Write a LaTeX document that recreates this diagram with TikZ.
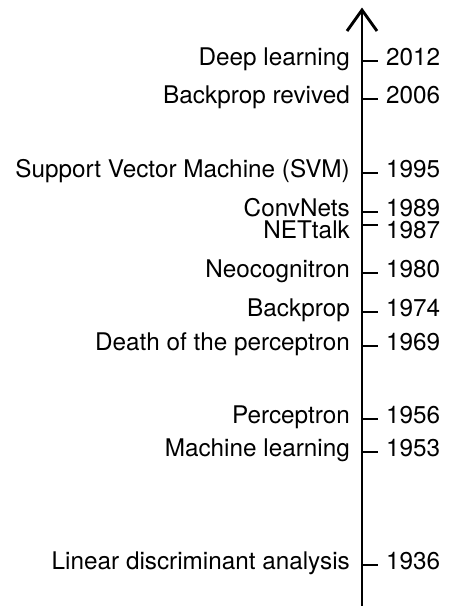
\documentclass[tikz,border=0pt]{standalone}
\usepackage{fontspec}
\setmainfont{TeX Gyre Heros}
\begin{document}
\begin{tikzpicture}[x=1pt,y=-1pt,
  axisline/.style={line width=2.9pt,line join=miter,line cap=butt},
  tickline/.style={line width=2.9pt,line cap=butt},
  yearlbl/.style={anchor=base west,inner sep=0pt,font=\fontsize{24.3}{29}\selectfont},
  evtlbl/.style={anchor=base east,inner sep=0pt,font=\fontsize{24.3}{29}\selectfont}]
\useasboundingbox (0,0) rectangle (449,606);
\coordinate (bot) at (362,610);
\coordinate (top) at (362,10);
\coordinate (al) at (347,31);
\coordinate (ar) at (377,31);
\draw[axisline] (bot) -- (top);
\draw[axisline] (al) -- (top) -- (ar);
\foreach \yr/\ty/\by/\lab in {
  2012/61/65/{Deep learning},
  2006/99/103/{Backprop revived},
  1995/173/177/{Support Vector Machine (SVM)},
  1989/212/216/{ConvNets},
  1987/225/238/{NETtalk},
  1980/273/277/{Neocognitron},
  1974/312/316/{Backprop},
  1969/346/350/{Death of the perceptron},
  1956/419/423/{Perceptron},
  1953/452/456/{Machine learning},
  1936/565/569/{Linear discriminant analysis}}
{
  \coordinate (a\yr) at (362,\ty);
  \coordinate (t\yr) at (378,\ty);
  \draw[tickline] (a\yr) -- (t\yr);
  \node[yearlbl] (y\yr) at (386,\by) {\yr};
  \node[evtlbl] (e\yr) at (350,\by) {\lab};
}
\end{tikzpicture}
\end{document}
